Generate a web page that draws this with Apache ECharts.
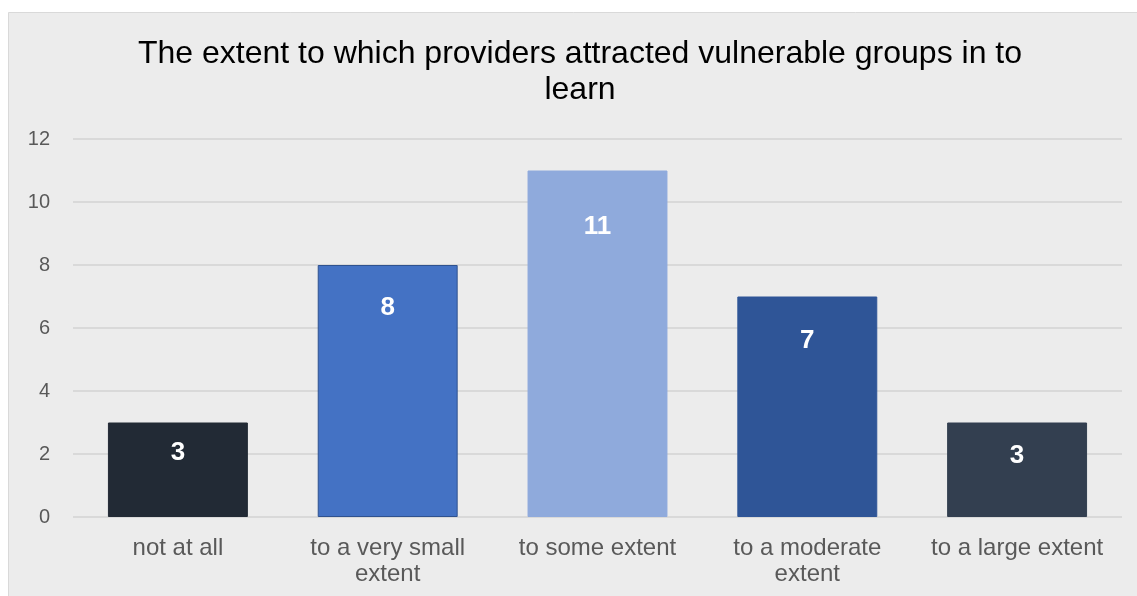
<!DOCTYPE html>
<html><head><meta charset="utf-8">
<script src="https://cdn.jsdelivr.net/npm/echarts@6/dist/echarts.min.js"></script>
<style>html,body{margin:0;padding:0;background:#fff;}#c{width:1137px;height:596px;}</style>
</head><body><div id="c"></div>
<script>
var categories = ['not at all', 'to a very small\nextent', 'to some extent', 'to a moderate\nextent', 'to a large extent'];
var values = [3, 8, 11, 7, 3];
var barColors = ['#222a35', '#4472c4', '#8faadc', '#2f5597', '#333f50'];
var barBorders = ['#222a35', '#2f528f', '#8faadc', '#2f5597', '#333f50'];
var labelDistances = [17, 30, 43, 31, 20];
var yTicks = [0, 2, 4, 6, 8, 10, 12];
var titleText = 'The extent to which providers attracted vulnerable groups in to\nlearn';

var chart = echarts.init(document.getElementById('c'), null, {renderer: 'canvas'});
var font = 'Liberation Sans, Arial, sans-serif';
chart.setOption({
  backgroundColor: '#ffffff',
  animation: false,
  graphic: [{
    type: 'rect', z: -10, silent: true,
    shape: {x: 8.5, y: 12.5, width: 1140, height: 600},
    style: {fill: '#ececec', stroke: '#d9d9d9', lineWidth: 1}
  }],
  title: {
    text: titleText, left: 575, textAlign: 'center', top: 31,
    textStyle: {fontFamily: font, fontSize: 32, fontWeight: 'normal', color: '#000', lineHeight: 36}
  },
  grid: {left: 73, right: 15, top: 139, bottom: 79, containLabel: false},
  xAxis: {
    type: 'category', data: categories,
    axisLine: {show: false}, axisTick: {show: false},
    axisLabel: {fontFamily: font, fontSize: 24, color: '#595959', lineHeight: 26, margin: 18, interval: 0}
  },
  yAxis: {
    type: 'value', min: yTicks[0], max: yTicks[yTicks.length - 1], interval: 2,
    axisLine: {show: false}, axisTick: {show: false},
    splitLine: {lineStyle: {color: '#d9d9d9', width: 2}},
    axisLabel: {fontFamily: font, fontSize: 20, color: '#595959', margin: 23}
  },
  series: [{
    type: 'bar', barWidth: '66.7%',
    data: values.map(function (v, i) {
      return {
        value: v,
        itemStyle: {color: barColors[i], borderColor: barBorders[i], borderWidth: 1},
        label: {distance: labelDistances[i]}
      };
    }),
    label: {
      show: true, position: 'insideTop',
      fontFamily: font, fontSize: 26, fontWeight: 'bold', color: '#ffffff'
    }
  }]
});
</script></body></html>
